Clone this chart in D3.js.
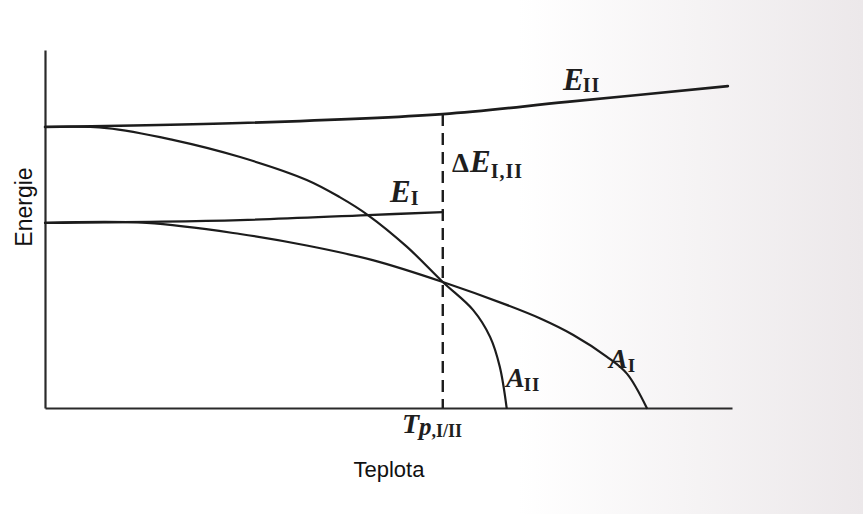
<!DOCTYPE html>
<html>
<head>
<meta charset="utf-8">
<script src="https://cdn.jsdelivr.net/npm/d3@7"></script>
<style>
  body { margin: 0; background: #fff; }
  svg { display: block; }
  .sym { font-family: "Liberation Serif", "DejaVu Serif", serif; font-weight: bold; fill: #1e1e1e; }
  .axis-title { font-family: "Liberation Sans", Arial, sans-serif; fill: #111; }
</style>
</head>
<body>
<div id="chart"></div>
<script>
'use strict';

// temperature (0-100) vs energy (0-100)
const eIIT = [0, 28.4, 57.9, 76.0, 99.4];
const eIIE = [78.5, 79.6, 82.1, 85.5, 89.9];

const eIT = [0, 28.4, 47.0, 57.9];
const eIE = [51.7, 52.5, 53.9, 54.7];

const aIIT = [0, 9.0, 18.6, 28.4, 38.1, 42.9, 47.0, 52.7, 57.9, 62.3, 64.8, 66.2, 67.2];
const aIIE = [78.5, 78.2, 74.9, 70.1, 63.7, 58.9, 53.9, 45.0, 35.2, 27.4, 19.8, 11.5, 0];

const aIT = [0, 14.8, 28.4, 38.1, 47.7, 57.9, 67.2, 72.1, 76.9, 81.8, 84.7, 87.6];
const aIE = [51.7, 51.7, 48.6, 45.4, 41.3, 35.2, 28.8, 25.0, 20.4, 14.3, 9.6, 0];

const transitionT = 57.9;

const width = 863, height = 514;

const svg = d3.select('#chart').append('svg')
    .attr('width', width).attr('height', height);

// faint scanned-page tint on the right
const grad = svg.append('defs').append('linearGradient').attr('id', 'page')
    .attr('x1', '0').attr('x2', '1').attr('y1', '0').attr('y2', '0');
grad.append('stop').attr('offset', '0.6').attr('stop-color', '#ffffff');
grad.append('stop').attr('offset', '1').attr('stop-color', '#ece8ea');
svg.append('rect').attr('width', width).attr('height', height).attr('fill', 'url(#page)');

const x = d3.scaleLinear().domain([0, 100]).range([45, 732]);
const y = d3.scaleLinear().domain([0, 100]).range([408, 50]);

const line = d3.line()
    .x(d => x(d[0])).y(d => y(d[1]))
    .curve(d3.curveCatmullRom.alpha(0.5));

const zip = (a, b) => a.map((v, i) => [v, b[i]]);

// axes (plain lines, no ticks)
const xAxis = d3.axisBottom(x).tickValues([]).tickSizeOuter(0);
const yAxis = d3.axisLeft(y).tickValues([]).tickSizeOuter(0);
svg.append('g').attr('transform', `translate(0,${y(0)})`).call(xAxis)
    .select('.domain').attr('stroke', '#2a2a2a').attr('stroke-width', 2.2);
svg.append('g').attr('transform', `translate(${x(0)},0)`).call(yAxis)
    .select('.domain').attr('stroke', '#2a2a2a').attr('stroke-width', 2.2);

const curves = [
    {pts: zip(eIIT, eIIE), w: 2.6},
    {pts: zip(eIT, eIE), w: 2.3},
    {pts: zip(aIIT, aIIE), w: 2.2},
    {pts: zip(aIT, aIE), w: 2.2}
];

svg.selectAll('path.curve').data(curves).join('path')
    .attr('class', 'curve')
    .attr('d', d => line(d.pts))
    .attr('fill', 'none')
    .attr('stroke', '#1c1c1c')
    .attr('stroke-width', d => d.w)
    .attr('stroke-linecap', 'round');

// dashed transition line from E_II down to the axis
const eIIAtT = d3.scaleLinear().domain(eIIT).range(eIIE)(transitionT);
svg.append('line')
    .attr('x1', x(transitionT)).attr('x2', x(transitionT))
    .attr('y1', y(eIIAtT)).attr('y2', y(0))
    .attr('stroke', '#1c1c1c').attr('stroke-width', 2.4)
    .attr('stroke-dasharray', '12,7');

// italic symbol with roman subscript
function label(px, py, parts) {
    const t = svg.append('text').attr('class', 'sym').attr('x', px).attr('y', py);
    parts.forEach(p => {
        t.append('tspan')
            .attr('font-size', p.size)
            .attr('font-style', p.italic ? 'italic' : 'normal')
            .attr('letter-spacing', p.ls || 0)
            .attr('dy', p.dy || 0)
            .attr('dx', p.dx || 0)
            .text(p.t);
    });
}

label(563, 90, [{t: 'E', size: 31, italic: true}, {t: 'II', size: 20, dy: 2, dx: -1, ls: 1}]);
label(452, 172, [{t: 'Δ', size: 27}, {t: 'E', size: 31, italic: true, dx: 1}, {t: 'I,II', size: 20, dy: 6, ls: 1}]);
label(390, 202, [{t: 'E', size: 31, italic: true}, {t: 'I', size: 20, dy: 3}]);
label(506, 387, [{t: 'A', size: 28, italic: true}, {t: 'II', size: 19, dy: 4, dx: -1, ls: 1}]);
label(609, 368, [{t: 'A', size: 28, italic: true}, {t: 'I', size: 19, dy: 4}]);
label(402, 433, [{t: 'T', size: 28, italic: true}, {t: 'p', size: 25, italic: true, dy: 2}, {t: ',I/II', size: 18, dy: 2}]);

svg.append('text').attr('class', 'axis-title')
    .attr('x', 389).attr('y', 477)
    .attr('text-anchor', 'middle').attr('font-size', 22)
    .text('Teplota');

svg.append('text').attr('class', 'axis-title')
    .attr('transform', 'translate(32,207) rotate(-90)')
    .attr('text-anchor', 'middle').attr('font-size', 23)
    .text('Energie');
</script>
</body>
</html>
